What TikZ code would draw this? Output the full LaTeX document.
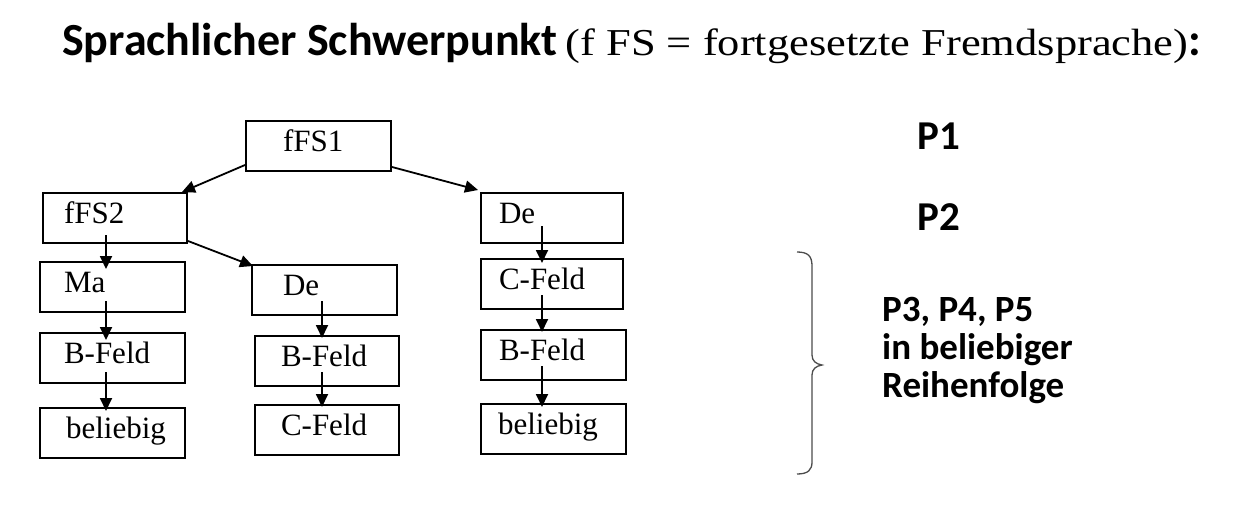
\documentclass[tikz,border=0pt]{standalone}
\usepackage{fontspec}
\usetikzlibrary{arrows.meta}
\newfontfamily\boxfont{Liberation Serif}
\newfontfamily\calfont{Carlito}
\newfontfamily\serwide[FakeStretch=1.17]{Liberation Serif}
\begin{document}
\begin{tikzpicture}[x=1pt,y=-1pt,
  fbox/.style={draw, line width=2pt, anchor=north west, inner sep=0pt,
    minimum height=50pt, text height=30pt, text depth=20pt, align=left,
    font=\boxfont\fontsize{31}{31}\selectfont},
  arr/.style={line width=1.8pt, -{Triangle[length=13pt,width=12pt]}},
  brace/.style={line width=1.3pt, draw=black!70},
  plabel/.style={font=\calfont\bfseries\fontsize{41}{41}\selectfont, inner sep=0pt, anchor=base west},
  pgroup/.style={font=\calfont\bfseries\fontsize{37}{38}\selectfont, align=left, inner sep=0pt, anchor=north west}]
\useasboundingbox (0,0) rectangle (1249,506);
% title
\node[anchor=base west, inner sep=0pt] (title) at (62,55)
  {{\calfont\bfseries\fontsize{46}{46}\selectfont Sprachlicher Schwerpunkt}\hspace{8pt}{\serwide\fontsize{38}{38}\selectfont (f FS = fortgesetzte Fremdsprache)}{\calfont\bfseries\fontsize{46}{46}\selectfont :}};
% boxes
\node[fbox, text width=145pt] (n1) at (245,120) {\hspace*{37pt}fFS1};
\node[fbox, text width=144pt] (n2) at (42,192) {\hspace*{21pt}fFS2};
\node[fbox, text width=145pt] (ma) at (39,261) {\hspace*{24pt}Ma};
\node[fbox, text width=145pt] (bl) at (39,332) {\hspace*{24pt}B-Feld};
\node[fbox, text width=145pt] (bel) at (39,407) {\hspace*{26pt}beliebig};
\node[fbox, text width=145pt] (dm) at (251,264) {\hspace*{31pt}De};
\node[fbox, text width=144pt] (bm) at (254,335) {\hspace*{26pt}B-Feld};
\node[fbox, text width=144pt] (cm) at (254,404) {\hspace*{26pt}C-Feld};
\node[fbox, text width=142pt] (dr) at (480,192) {\hspace*{18pt}De};
\node[fbox, text width=142pt] (cr) at (480,258) {\hspace*{18pt}C-Feld};
\node[fbox, text width=145pt] (br) at (480,329) {\hspace*{18pt}B-Feld};
\node[fbox, text width=145pt] (belr) at (480,403) {\hspace*{17pt}beliebig};
% diagonal arrows
\draw[arr] ([yshift=7pt]n1.south west) -- ([xshift=-6pt]n2.north east);
\draw[arr] ([yshift=5pt]n1.south east) -- ([xshift=-2pt,yshift=2pt]dr.north west);
\draw[arr] ([yshift=3pt]n2.south east) -- ([xshift=2pt,yshift=-2pt]dm.north west);
% vertical arrows
\draw[arr] ([xshift=64pt,yshift=9pt]n2.south west) -- ([xshift=67pt,yshift=-8pt]ma.north west);
\draw[arr] ([xshift=67pt,yshift=12pt]ma.south west) -- ([xshift=67pt,yshift=-8pt]bl.north west);
\draw[arr] ([xshift=67pt,yshift=12pt]bl.south west) -- ([xshift=67pt,yshift=-4pt]bel.north west);
\draw[arr] ([xshift=71pt,yshift=15pt]dm.south west) -- ([xshift=68pt,yshift=-3pt]bm.north west);
\draw[arr] ([xshift=68pt,yshift=15pt]bm.south west) -- ([xshift=68pt,yshift=-3pt]cm.north west);
\draw[arr] ([xshift=62pt,yshift=18pt]dr.south west) -- ([xshift=62pt,yshift=-5pt]cr.north west);
\draw[arr] ([xshift=62pt,yshift=15pt]cr.south west) -- ([xshift=62pt,yshift=-3pt]br.north west);
\draw[arr] ([xshift=62pt,yshift=15pt]br.south west) -- ([xshift=62pt,yshift=-4pt]belr.north west);
% right labels
\node[plabel] (p1) at (917,149) {P1};
\node[plabel] (p2) at (917,230) {P2};
\node[pgroup] (p3) at (882,297) {P3, P4, P5\\in beliebiger\\Reihenfolge};
% brace
\draw[brace] (797,252) .. controls (808,252) and (812,256) .. (812,266)
  -- (812,355) .. controls (812,361) and (816,364) .. (822,365)
  .. controls (816,366) and (812,369) .. (812,375)
  -- (812,462) .. controls (812,470) and (808,474) .. (797,474);
\end{tikzpicture}
\end{document}
